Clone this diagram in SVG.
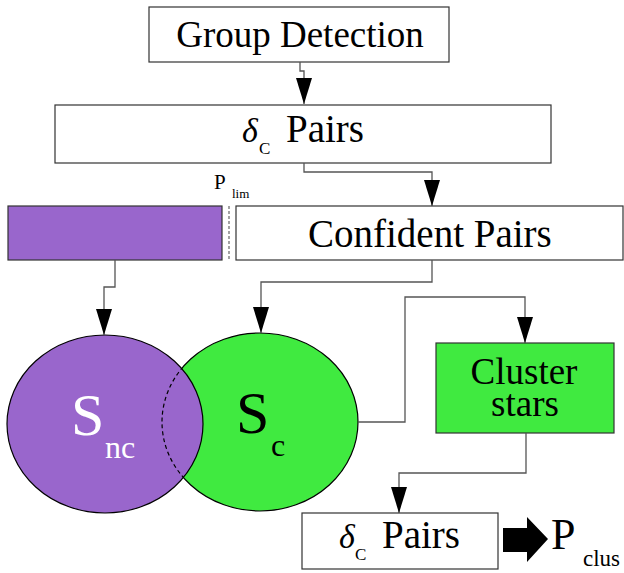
<svg xmlns="http://www.w3.org/2000/svg" width="624" height="573" viewBox="0 0 624 573">
<style>
.box{fill:#fff;stroke:#333;stroke-width:1.2}
.t{fill:#000}
.w{fill:#fff}
.conn{fill:none;stroke:#555;stroke-width:1.3}
</style>
<defs>
<marker id="ah" viewBox="0 0 26 16" refX="26" refY="8" markerWidth="26" markerHeight="16" markerUnits="userSpaceOnUse" orient="auto">
<path d="M0,0 L26,8 L0,16 z" fill="#000"/>
</marker>
<clipPath id="clipP"><ellipse cx="105" cy="424" rx="98" ry="89"/></clipPath>
</defs>
<rect width="624" height="573" fill="#fff"/>
<g font-family="Liberation Serif, DejaVu Serif, Tinos, Nimbus Roman, FreeSerif, Noto Serif, serif">
<g id="group-detection">
<rect class="box" x="149" y="7" width="300" height="55"/>
<text class="t" x="300" y="47" font-size="37" text-anchor="middle">Group Detection</text>
</g>

<g id="delta-pairs-top">
<rect class="box" x="55" y="105" width="496" height="58"/>
<text class="t" x="242" y="142" font-size="34" font-style="italic">δ</text>
<text class="t" x="259" y="154" font-size="17">C</text>
<text class="t" x="286" y="142" font-size="39">Pairs</text>
</g>

<g id="p-lim">
<text class="t" x="214" y="189" font-size="21">P</text>
<text class="t" x="232" y="198" font-size="13">lim</text>
<line x1="229" y1="206" x2="229" y2="259" stroke="#666" stroke-width="1.2" stroke-dasharray="3,2"/>
</g>

<g id="non-confident">
<rect x="8" y="206" width="214" height="54" fill="#9966CC" stroke="#333" stroke-width="1.2"/>
</g>

<g id="confident-pairs">
<rect class="box" x="236" y="206" width="387" height="54"/>
<text class="t" x="308" y="247" font-size="39">Confident Pairs</text>
</g>

<g id="s-c">
<ellipse cx="260" cy="422" rx="98" ry="89" fill="#40EA40" stroke="#000" stroke-width="1.2"/>
<text class="t" x="236" y="433" font-size="60">S</text>
<text class="t" x="271" y="456" font-size="32">c</text>
</g>

<g id="s-nc">
<ellipse cx="105" cy="424" rx="98" ry="89" fill="#9966CC" stroke="#000" stroke-width="1.2"/>
<ellipse cx="260" cy="422" rx="98" ry="89" fill="none" stroke="#000" stroke-width="1.2" stroke-dasharray="4,3" clip-path="url(#clipP)"/>
<text class="w" x="71" y="435" font-size="60">S</text>
<text class="w" x="105" y="458" font-size="32">nc</text>
</g>

<g id="cluster-stars">
<rect x="436" y="343" width="178" height="90" fill="#40EA40" stroke="#333" stroke-width="1.2"/>
<text class="t" x="524" y="384" font-size="37" text-anchor="middle">Cluster</text>
<text class="t" x="525" y="416" font-size="37" text-anchor="middle">stars</text>
</g>

<g id="delta-pairs-bottom">
<rect class="box" x="302" y="513" width="196" height="56"/>
<text class="t" x="339" y="548" font-size="34" font-style="italic">δ</text>
<text class="t" x="355" y="560" font-size="17">C</text>
<text class="t" x="382" y="548" font-size="39">Pairs</text>
</g>

<g id="p-clus">
<polygon points="503,528 527,528 527,517 548,539 527,562 527,552 503,552" fill="#000"/>
<text class="t" x="551" y="549" font-size="44">P</text>
<text class="t" x="583" y="566" font-size="23">clus</text>
</g>
</g>
<g id="connectors">
<path class="conn" d="M300,62 V71 H304 V104" marker-end="url(#ah)"/>
<path class="conn" d="M304,163 V172 H432 V206" marker-end="url(#ah)"/>
<path class="conn" d="M115,260 V287 H104 V335" marker-end="url(#ah)"/>
<path class="conn" d="M432,260 V282 H261 V333" marker-end="url(#ah)"/>
<path class="conn" d="M358,422 H405 V297 H525 V343" marker-end="url(#ah)"/>
<path class="conn" d="M526,433 V473 H399 V513" marker-end="url(#ah)"/>
</g>
</svg>
